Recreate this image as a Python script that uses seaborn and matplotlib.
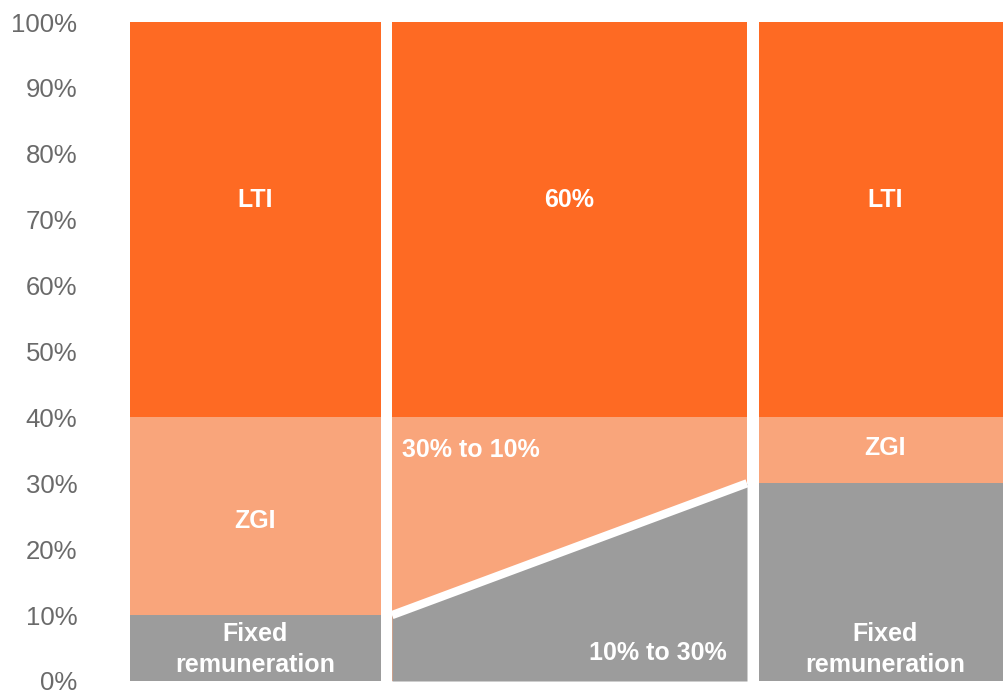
import matplotlib
matplotlib.use("Agg")
import matplotlib.pyplot as plt
import seaborn as sns
import pandas as pd

# ---- data ----
categories = ["Left", "Transition", "Right"]
fixed_start = [10, 10, 30]     # fixed remuneration at left edge of each panel
fixed_end = [10, 30, 30]       # fixed remuneration at right edge of each panel
zgi_top = [40, 40, 40]
lti_top = [100, 100, 100]
y_ticks = [0, 10, 20, 30, 40, 50, 60, 70, 80, 90, 100]
y_tick_labels = ["0%", "10%", "20%", "30%", "40%", "50%", "60%", "70%", "80%", "90%", "100%"]

# ---- style ----
sns.set_theme(style="white")
plt.rcParams['font.family'] = ['Liberation Sans', 'DejaVu Sans']

C_LTI = "#FE6A23"
C_ZGI = "#F9A57B"
C_FIX = "#9C9C9C"
TXT = "#6A6A6A"

fig = plt.figure(figsize=(10.04, 6.94), dpi=100)
ax = fig.add_axes([130 / 1004, 13 / 694, 874 / 1004, 659 / 694])

# panel geometry (x positions / widths in axis units)
x0 = [0, 262, 629]
w = [251, 355, 252]

# layers drawn from the baseline, overlapping, to avoid seams
for i in range(3):
    xs = [x0[i], x0[i] + w[i]]
    fix = [fixed_start[i], fixed_end[i]]
    ax.fill_between(xs, [0, 0], [lti_top[i]] * 2, color=C_LTI, linewidth=0)
    ax.fill_between(xs, [0, 0], [zgi_top[i]] * 2, color=C_ZGI, linewidth=0)
    ax.fill_between(xs, [0, 0], fix, color=C_FIX, linewidth=0)

# white diagonal separator in the transition panel
diag = pd.DataFrame({"x": [x0[1], x0[1] + w[1]], "y": [fixed_start[1], fixed_end[1]]})
sns.lineplot(data=diag, x="x", y="y", color="white", linewidth=6, ax=ax,
             solid_capstyle="butt")

lab = dict(color="white", fontweight="bold", fontsize=18)
# LTI labels
ax.text(x0[0] + w[0] / 2, 73.0, "LTI", ha="center", va="center", **lab)
ax.text(x0[1] + w[1] / 2, 73.0, "60%", ha="center", va="center", **lab)
ax.text(x0[2] + w[2] / 2, 73.0, "LTI", ha="center", va="center", **lab)
# ZGI labels
ax.text(x0[0] + w[0] / 2, 24.3, "ZGI", ha="center", va="center", **lab)
ax.text(x0[2] + w[2] / 2, 35.3, "ZGI", ha="center", va="center", **lab)
ax.text(x0[1] + 10, 35.0, "30% to 10%", ha="left", va="center", **lab)
# Fixed labels
ax.text(x0[1] + w[1] - 20, 4.3, "10% to 30%", ha="right", va="center", **lab)
ax.text(x0[0] + w[0] / 2, 4.8, "Fixed\nremuneration", ha="center", va="center",
        linespacing=1.35, **lab)
ax.text(x0[2] + w[2] / 2, 4.8, "Fixed\nremuneration", ha="center", va="center",
        linespacing=1.35, **lab)

ax.set_xlim(0, 874)
ax.set_ylim(0, 100)
ax.set_yticks(y_ticks)
ax.set_yticklabels(y_tick_labels, fontsize=18.5, color=TXT)
ax.set_xticks([])
ax.tick_params(axis="y", length=0, pad=38)
ax.set_xlabel("")
ax.set_ylabel("")
for s in ax.spines.values():
    s.set_visible(False)

fig.savefig("out.png", dpi=100)
